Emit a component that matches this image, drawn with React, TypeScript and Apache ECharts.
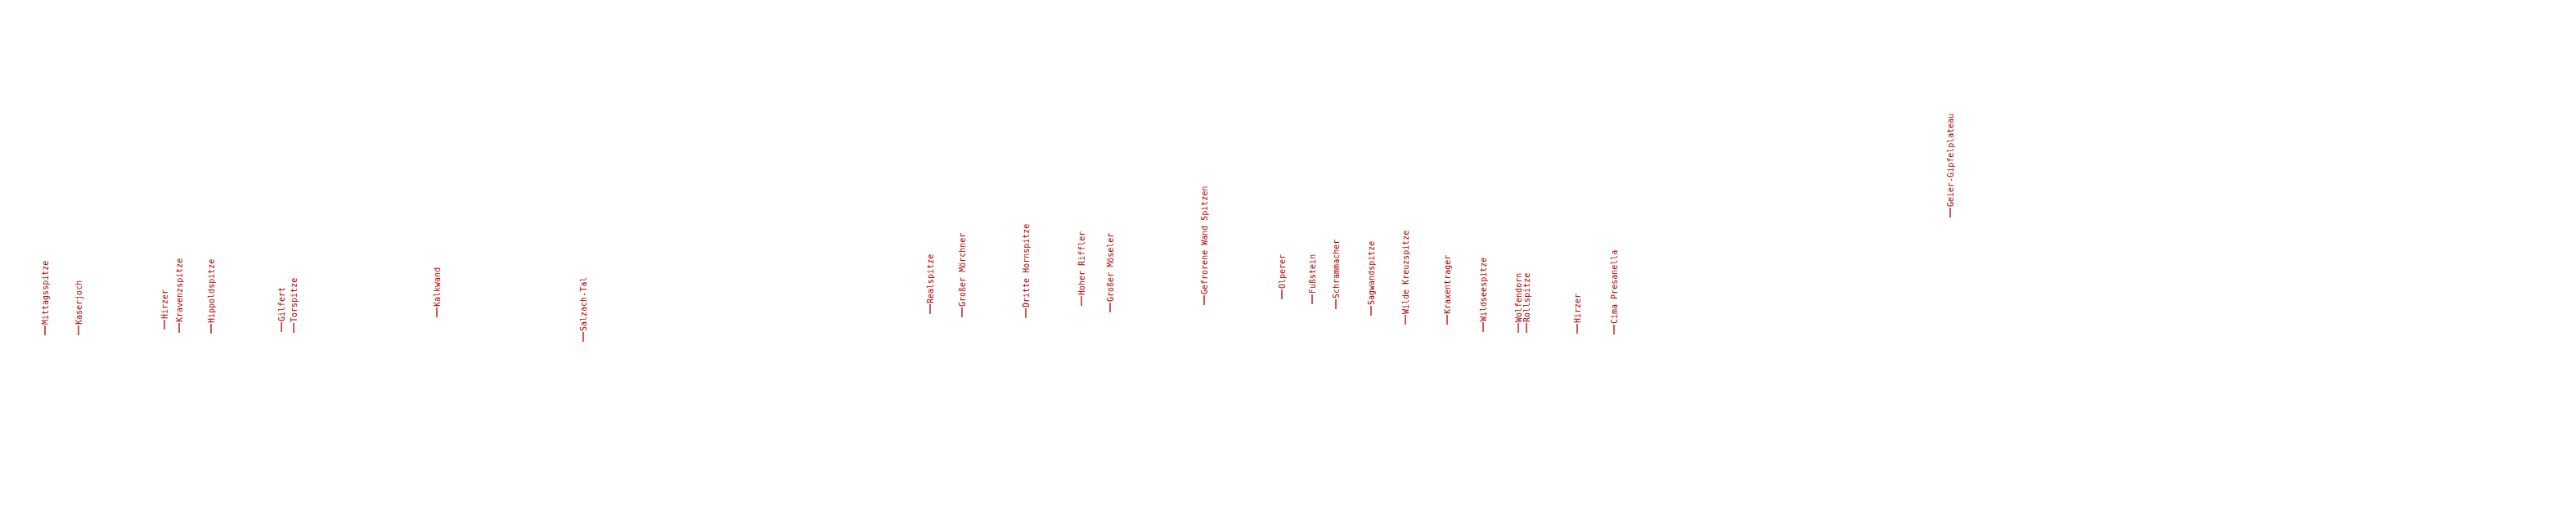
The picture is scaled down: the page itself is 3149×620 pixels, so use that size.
import React, { useEffect, useRef } from "react";
import * as echarts from "echarts";

// Peak names (labels)
const names: string[] = [
  "Mittagsspitze", "Kaserjoch", "Hirzer", "Kravenzspitze", "Hippoldspitze",
  "Gilfert", "Torspitze", "Kalkwand", "Salzach-Tal", "Realspitze",
  "Großer Mörchner", "Dritte Hornspitze", "Hoher Riffler", "Großer Möseler",
  "Gefrorene Wand Spitzen", "Olperer", "Fußstein", "Schrammacher",
  "Sagwandspitze", "Wilde Kreuzspitze", "Kraxentrager", "Wildseespitze",
  "Wolfendorn", "Rollspitze", "Hirzer", "Cima Presanella", "Geier-Gipfelplateau",
];

// Horizontal position values
const xValues: number[] = [
  55, 96, 201, 219, 258, 344, 359, 534, 713, 1137, 1176, 1254, 1322, 1357,
  1472, 1567, 1604, 1633, 1676, 1718, 1769, 1813, 1856, 1866, 1928, 1973, 2384,
];

// Vertical (height) values
const yValues: number[] = [
  210, 210, 217, 213, 212, 214, 213, 232, 202, 236, 232, 231, 246, 238,
  247, 254, 248, 242, 234, 223, 223, 214, 213, 213, 212, 211, 354,
];

const COLOR = "#b00000";

export default function App() {
  const ref = useRef<HTMLDivElement>(null);
  useEffect(() => {
    document.body.style.margin = "0";
    if (!ref.current) return;
    const chart = echarts.init(ref.current, undefined, { renderer: "svg" });
    const data = xValues.map((x, i) => [x, yValues[i], i]);
    chart.setOption({
      animation: false,
      backgroundColor: "#ffffff",
      grid: { left: 0, right: 0, top: 0, bottom: 0 },
      xAxis: { type: "value", min: 0, max: 3149, show: false },
      yAxis: { type: "value", min: 0, max: 620, show: false },
      series: [
        {
          type: "custom",
          data,
          renderItem: (params: any, api: any) => {
            const p = api.coord([api.value(0), api.value(1)]);
            const idx = api.value(2);
            return {
              type: "group",
              children: [
                {
                  type: "line",
                  shape: { x1: p[0], y1: p[1], x2: p[0], y2: p[1] - 12 },
                  style: { stroke: COLOR, lineWidth: 1.3 },
                },
                {
                  type: "text",
                  x: p[0],
                  y: p[1] - 13,
                  rotation: Math.PI / 2,
                  style: {
                    text: names[idx],
                    fill: COLOR,
                    fontFamily: "DejaVu Sans Mono",
                    fontSize: 10,
                    align: "left",
                    verticalAlign: "middle",
                  },
                },
              ],
            };
          },
        },
      ],
    });
    return () => chart.dispose();
  }, []);
  return <div ref={ref} style={{ width: 3149, height: 620 }} />;
}
